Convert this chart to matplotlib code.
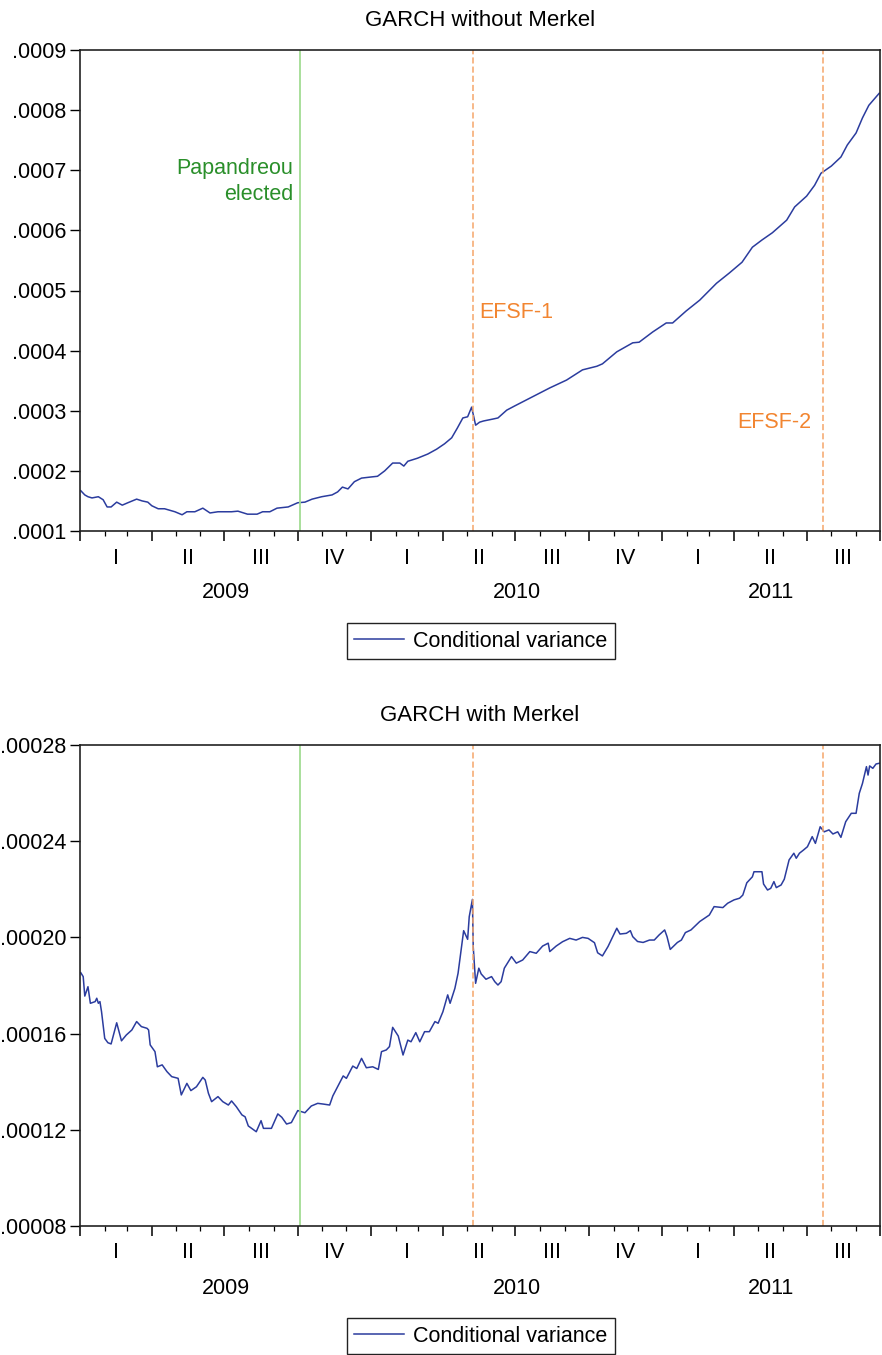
import matplotlib
matplotlib.use('Agg')
import matplotlib.pyplot as plt
import matplotlib.dates as mdates
import matplotlib.transforms as mtrans
import pandas as pd

plt.rcParams['font.family'] = ['Liberation Sans', 'DejaVu Sans']

# conditional variance, GARCH without Merkel
dates_top = ['2009-01-02', '2009-01-07', '2009-01-11', '2009-01-16', '2009-01-24', '2009-01-30',
             '2009-02-04', '2009-02-09', '2009-02-16', '2009-02-23', '2009-03-02', '2009-03-13',
             '2009-03-20', '2009-03-27', '2009-04-01', '2009-04-09', '2009-04-17', '2009-04-30',
             '2009-05-09', '2009-05-15', '2009-05-25', '2009-06-04', '2009-06-13', '2009-06-23',
             '2009-07-10', '2009-07-18', '2009-07-30', '2009-08-11', '2009-08-18', '2009-08-27',
             '2009-09-05', '2009-09-19', '2009-10-01', '2009-10-10', '2009-10-19', '2009-10-31',
             '2009-11-13', '2009-11-20', '2009-11-26', '2009-12-03', '2009-12-11', '2009-12-20',
             '2010-01-02', '2010-01-09', '2010-01-18', '2010-01-28', '2010-02-06', '2010-02-11',
             '2010-02-16', '2010-02-28', '2010-03-13', '2010-03-24', '2010-04-03', '2010-04-12',
             '2010-04-19', '2010-04-26', '2010-05-02', '2010-05-07', '2010-05-12', '2010-05-17',
             '2010-05-22', '2010-06-02', '2010-06-09', '2010-06-20', '2010-06-30', '2010-07-22',
             '2010-08-13', '2010-09-03', '2010-09-23', '2010-10-11', '2010-10-18', '2010-11-05',
             '2010-11-25', '2010-12-03', '2010-12-20', '2011-01-06', '2011-01-14', '2011-01-31',
             '2011-02-17', '2011-03-10', '2011-03-26', '2011-04-11', '2011-04-24', '2011-05-06',
             '2011-05-19', '2011-06-06', '2011-06-16', '2011-07-01', '2011-07-11', '2011-07-19',
             '2011-08-01', '2011-08-13', '2011-08-21', '2011-09-01', '2011-09-09', '2011-09-17',
             '2011-09-30']
var_top = [0.000167, 0.000160, 0.000157, 0.000155, 0.000157, 0.000152,
           0.000140, 0.000140, 0.000148, 0.000143, 0.000147, 0.000153,
           0.000150, 0.000148, 0.000142, 0.000137, 0.000137, 0.000132,
           0.000127, 0.000132, 0.000132, 0.000138, 0.000130, 0.000132,
           0.000132, 0.000133, 0.000128, 0.000128, 0.000132, 0.000132,
           0.000138, 0.000140, 0.000147, 0.000148, 0.000153, 0.000157,
           0.000160, 0.000165, 0.000173, 0.000170, 0.000182, 0.000188,
           0.000190, 0.000191, 0.000200, 0.000213, 0.000213, 0.000208,
           0.000216, 0.000221, 0.000228, 0.000236, 0.000245, 0.000255,
           0.000271, 0.000288, 0.000290, 0.000306, 0.000276, 0.000281,
           0.000283, 0.000286, 0.000288, 0.000301, 0.000308, 0.000323,
           0.000338, 0.000351, 0.000368, 0.000374, 0.000378, 0.000398,
           0.000413, 0.000414, 0.000431, 0.000446, 0.000446, 0.000466,
           0.000484, 0.000512, 0.000529, 0.000547, 0.000572, 0.000584,
           0.000596, 0.000617, 0.000639, 0.000657, 0.000675, 0.000695,
           0.000707, 0.000722, 0.000742, 0.000762, 0.000787, 0.000808,
           0.000828]

# conditional variance, GARCH with Merkel
dates_bot = ['2009-01-02', '2009-01-05', '2009-01-07', '2009-01-11', '2009-01-14', '2009-01-20',
             '2009-01-22', '2009-01-24', '2009-01-26', '2009-01-28', '2009-02-01', '2009-02-05',
             '2009-02-09', '2009-02-16', '2009-02-22', '2009-02-28', '2009-03-07', '2009-03-13',
             '2009-03-19', '2009-03-26', '2009-03-28', '2009-03-30', '2009-04-05', '2009-04-08',
             '2009-04-14', '2009-04-20', '2009-04-26', '2009-05-04', '2009-05-08', '2009-05-15',
             '2009-05-20', '2009-05-27', '2009-06-04', '2009-06-07', '2009-06-11', '2009-06-15',
             '2009-06-23', '2009-06-29', '2009-07-06', '2009-07-10', '2009-07-16', '2009-07-23',
             '2009-07-27', '2009-07-31', '2009-08-10', '2009-08-16', '2009-08-19', '2009-08-29',
             '2009-09-06', '2009-09-11', '2009-09-17', '2009-09-23', '2009-10-01', '2009-10-10',
             '2009-10-18', '2009-10-26', '2009-11-02', '2009-11-10', '2009-11-14', '2009-11-21',
             '2009-11-27', '2009-12-01', '2009-12-09', '2009-12-14', '2009-12-20', '2009-12-26',
             '2010-01-03', '2010-01-10', '2010-01-14', '2010-01-20', '2010-01-24', '2010-01-28',
             '2010-02-04', '2010-02-10', '2010-02-16', '2010-02-20', '2010-02-26', '2010-03-03',
             '2010-03-09', '2010-03-15', '2010-03-22', '2010-03-26', '2010-04-01', '2010-04-07',
             '2010-04-10', '2010-04-16', '2010-04-20', '2010-04-23', '2010-04-27', '2010-05-02',
             '2010-05-04', '2010-05-08', '2010-05-09', '2010-05-12', '2010-05-16', '2010-05-19',
             '2010-05-25', '2010-06-01', '2010-06-05', '2010-06-09', '2010-06-13', '2010-06-17',
             '2010-06-26', '2010-07-02', '2010-07-10', '2010-07-19', '2010-07-27', '2010-08-04',
             '2010-08-11', '2010-08-13', '2010-08-21', '2010-08-29', '2010-09-07', '2010-09-15',
             '2010-09-23', '2010-09-30', '2010-10-08', '2010-10-12', '2010-10-18', '2010-10-25',
             '2010-10-31', '2010-11-05', '2010-11-09', '2010-11-17', '2010-11-22', '2010-11-25',
             '2010-12-01', '2010-12-08', '2010-12-16', '2010-12-22', '2010-12-28', '2011-01-04',
             '2011-01-07', '2011-01-11', '2011-01-20', '2011-01-25', '2011-01-30', '2011-02-06',
             '2011-02-17', '2011-03-01', '2011-03-07', '2011-03-18', '2011-03-24', '2011-04-01',
             '2011-04-08', '2011-04-12', '2011-04-17', '2011-04-24', '2011-04-26', '2011-05-06',
             '2011-05-08', '2011-05-13', '2011-05-17', '2011-05-21', '2011-05-24', '2011-05-30',
             '2011-06-03', '2011-06-09', '2011-06-15', '2011-06-18', '2011-06-22', '2011-06-27',
             '2011-07-02', '2011-07-08', '2011-07-12', '2011-07-18', '2011-07-23', '2011-07-29',
             '2011-08-03', '2011-08-09', '2011-08-13', '2011-08-19', '2011-08-26', '2011-09-01',
             '2011-09-05', '2011-09-09', '2011-09-14', '2011-09-16', '2011-09-18', '2011-09-22',
             '2011-09-26', '2011-09-30']
var_bot = [0.0001853, 0.0001837, 0.0001756, 0.0001795, 0.0001726, 0.0001733,
           0.0001747, 0.0001726, 0.0001733, 0.0001691, 0.0001580, 0.0001562,
           0.0001557, 0.0001645, 0.0001570, 0.0001594, 0.0001615, 0.0001650,
           0.0001629, 0.0001622, 0.0001615, 0.0001553, 0.0001525, 0.0001462,
           0.0001470, 0.0001442, 0.0001421, 0.0001414, 0.0001345, 0.0001393,
           0.0001363, 0.0001379, 0.0001418, 0.0001407, 0.0001352, 0.0001317,
           0.0001338, 0.0001317, 0.0001303, 0.0001320, 0.0001296, 0.0001262,
           0.0001254, 0.0001216, 0.0001192, 0.0001238, 0.0001206, 0.0001206,
           0.0001266, 0.0001252, 0.0001224, 0.0001230, 0.0001280, 0.0001271,
           0.0001299, 0.0001310, 0.0001307, 0.0001303, 0.0001341, 0.0001386,
           0.0001424, 0.0001414, 0.0001465, 0.0001455, 0.0001497, 0.0001458,
           0.0001462, 0.0001451, 0.0001525, 0.0001532, 0.0001546, 0.0001626,
           0.0001590, 0.0001511, 0.0001573, 0.0001566, 0.0001604, 0.0001566,
           0.0001608, 0.0001608, 0.0001650, 0.0001643, 0.0001691, 0.0001761,
           0.0001726, 0.0001788, 0.0001851, 0.0001927, 0.0002028, 0.0001992,
           0.0002086, 0.0002158, 0.0001961, 0.0001809, 0.0001872, 0.0001848,
           0.0001826, 0.0001837, 0.0001816, 0.0001802, 0.0001816, 0.0001872,
           0.0001920, 0.0001893, 0.0001906, 0.0001941, 0.0001934, 0.0001964,
           0.0001976, 0.0001941, 0.0001964, 0.0001982, 0.0001996, 0.0001989,
           0.0002000, 0.0001996, 0.0001978, 0.0001936, 0.0001923, 0.0001962,
           0.0002003, 0.0002038, 0.0002014, 0.0002017, 0.0002028, 0.0002003,
           0.0001983, 0.0001979, 0.0001989, 0.0001989, 0.0002010, 0.0002031,
           0.0002003, 0.0001950, 0.0001979, 0.0001989, 0.0002020, 0.0002031,
           0.0002066, 0.0002093, 0.0002128, 0.0002124, 0.0002142, 0.0002156,
           0.0002163, 0.0002176, 0.0002227, 0.0002252, 0.0002273, 0.0002273,
           0.0002222, 0.0002197, 0.0002204, 0.0002232, 0.0002207, 0.0002218,
           0.0002242, 0.0002322, 0.0002350, 0.0002329, 0.0002350, 0.0002363,
           0.0002377, 0.0002419, 0.0002391, 0.0002460, 0.0002439, 0.0002447,
           0.0002430, 0.0002439, 0.0002416, 0.0002481, 0.0002516, 0.0002516,
           0.0002599, 0.0002640, 0.0002710, 0.0002675, 0.0002713, 0.0002703,
           0.0002721, 0.0002724]

event_dates = ['2009-10-04', '2010-05-09', '2011-07-21']
quarter_names = ['I', 'II', 'III', 'IV']
years = [2009, 2010, 2011]

line_col = '#2b3c9e'
green_line = '#a3dc93'
green_txt = '#2a8f2a'
orange_line = '#f5a66a'
orange_txt = '#f28530'
FS = 15.5

x_lo = pd.Timestamp('2009-01-01')
x_hi = pd.Timestamp('2011-10-01')

fig = plt.figure(figsize=(8.82, 13.55), dpi=100)
ax1 = fig.add_axes([80/882, 1 - 531/1355, 800/882, 481/1355])
ax2 = fig.add_axes([80/882, 1 - 1226/1355, 800/882, 481/1355])


def setup(ax, dates, vals, ylo, yhi, step, ndec, title):
    ln, = ax.plot(pd.to_datetime(dates), vals, color=line_col, lw=1.1, label='Conditional variance')
    ax.set_xlim(x_lo, x_hi)
    ax.set_ylim(ylo, yhi)
    nt = int(round((yhi - ylo) / step))
    yt = [ylo + i * step for i in range(nt + 1)]
    ax.set_yticks(yt)
    ax.set_yticklabels([('%.*f' % (ndec, v))[1:] for v in yt])
    ax.xaxis.set_major_locator(mdates.MonthLocator(bymonth=[1, 4, 7, 10]))
    ax.xaxis.set_minor_locator(mdates.MonthLocator())
    ax.tick_params(axis='x', which='major', length=7.5, width=1.1, direction='out', labelbottom=False)
    ax.tick_params(axis='x', which='minor', length=3.8, width=0.9, direction='out')
    ax.tick_params(axis='y', which='major', length=7, width=1.0, labelsize=FS, pad=3)
    for s in ax.spines.values():
        s.set_linewidth(1.2)
        s.set_color('#222222')
    ax.set_title(title, fontsize=FS + 0.5, pad=17)

    # event lines
    ev = pd.to_datetime(event_dates)
    ax.axvline(ev[0], color=green_line, lw=1.3)
    ax.axvline(ev[1], color=orange_line, lw=1.1, ls=(0, (4, 2)))
    ax.axvline(ev[2], color=orange_line, lw=1.1, ls=(0, (4, 2)))

    # quarter and year labels under the axis
    tr = mtrans.blended_transform_factory(ax.transData, ax.transAxes)
    for q in pd.date_range(x_lo, x_hi, freq='QS')[:-1]:
        q_end = min(q + pd.DateOffset(months=3), x_hi)
        mid = q + (q_end - q) / 2
        ax.text(mid, -27/481, quarter_names[(q.month - 1) // 3], transform=tr,
                ha='center', va='center', fontsize=FS)
    for y in years:
        y0 = pd.Timestamp(f'{y}-01-01')
        y1 = min(pd.Timestamp(f'{y + 1}-01-01'), x_hi)
        ax.text(y0 + (y1 - y0) / 2, -62/481, str(y), transform=tr,
                ha='center', va='center', fontsize=FS)
    return ln


ln1 = setup(ax1, dates_top, var_top, 0.0001, 0.0009, 0.0001, 4, 'GARCH without Merkel')
ln2 = setup(ax2, dates_bot, var_bot, 0.00008, 0.00028, 0.00004, 5, 'GARCH with Merkel')

ev = pd.to_datetime(event_dates)
ax1.annotate('Papandreou\nelected', xy=(ev[0], 0.000681), xytext=(-5, 0), textcoords='offset points',
             ha='right', va='center', color=green_txt, fontsize=FS, linespacing=1.3)
ax1.annotate('EFSF-1', xy=(ev[1], 0.000463), xytext=(4, 0), textcoords='offset points',
             ha='left', va='center', color=orange_txt, fontsize=FS)
ax1.annotate('EFSF-2', xy=(ev[2], 0.00028), xytext=(-8, 0), textcoords='offset points',
             ha='right', va='center', color=orange_txt, fontsize=FS)

for ln, ytop in [(ln1, 623), (ln2, 1318)]:
    leg = fig.legend(handles=[ln], loc='upper center', bbox_to_anchor=(481/882, 1 - ytop/1355),
                     fontsize=FS, fancybox=False, framealpha=1, edgecolor='#222222',
                     handlelength=2.3, handletextpad=0.45, borderpad=0.35, borderaxespad=0)
    leg.get_frame().set_linewidth(1.0)

fig.savefig('out.png', dpi=100)
